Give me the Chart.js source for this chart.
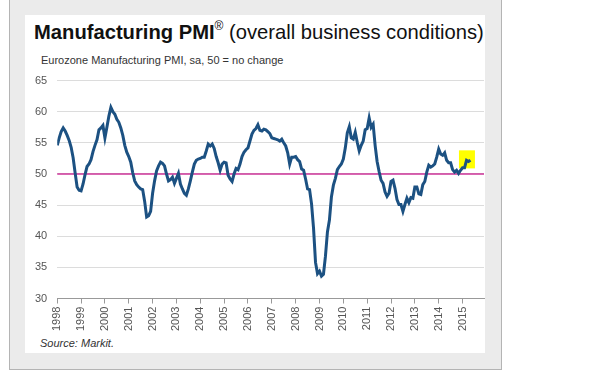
<!DOCTYPE html>
<html>
<head>
<meta charset="utf-8">
<script src="https://cdn.jsdelivr.net/npm/chart.js@4"></script>
<style>
    body { margin: 0; width: 608px; height: 375px; background: #fff; position: relative; overflow: hidden;
           font-family: "Liberation Sans", Arial, sans-serif; }
    #frame { position: absolute; left: 9px; top: -1px; width: 491px; height: 369px;
             background: #ebebeb; border: 1px solid #b4b4b4; }
    #panel { position: absolute; left: 25px; top: 15px; width: 460px; height: 338px; background: #fff; }
    #title { position: absolute; left: 34px; top: 19px; font-size: 20.2px; color: #111; white-space: nowrap; }
    #title b sup { font-size: 12px; font-weight: normal; vertical-align: 9px; }
    #subtitle { position: absolute; left: 41px; top: 54px; font-size: 11px; color: #333; white-space: nowrap; }
    #source { position: absolute; left: 40px; top: 337px; font-size: 11px; font-style: italic; color: #333; }
    #chart { position: absolute; left: 25px; top: 64px; }
</style>
</head>
<body>
<div id="frame"></div>
<div id="panel"></div>
<div id="title"><b>Manufacturing PMI<sup>®</sup></b> (overall business conditions)</div>
<div id="subtitle">Eurozone Manufacturing PMI, sa, 50 = no change</div>
<canvas id="chart" width="460" height="270"></canvas>
<div id="source">Source: Markit.</div>

<script>
// ================= DATA =================
const years = [1998, 1999, 2000, 2001, 2002, 2003, 2004, 2005, 2006,
               2007, 2008, 2009, 2010, 2011, 2012, 2013, 2014, 2015];

// monthly PMI readings, Jan..Dec
const pmi1998 = [54.6, 55.8, 56.8, 57.4, 56.9, 56.2, 55.4, 54.3, 52.6, 50.2, 47.9, 47.4];
const pmi1999 = [47.3, 48.4, 49.9, 51.2, 51.6, 52.3, 53.6, 54.6, 55.5, 57.1, 57.4, 57.8];
const pmi2000 = [55.8, 57.5, 59.3, 60.7, 60.0, 59.6, 58.8, 58.3, 57.4, 56.2, 54.6, 53.5];
const pmi2001 = [52.8, 51.9, 50.2, 48.9, 48.3, 47.9, 47.6, 47.5, 45.6, 43.1, 43.3, 44.0];
const pmi2002 = [46.9, 48.9, 50.5, 51.3, 51.9, 51.7, 51.3, 50.0, 48.9, 49.1, 49.5, 48.5];
const pmi2003 = [49.3, 50.1, 48.4, 47.6, 46.9, 46.6, 47.6, 48.9, 50.3, 51.6, 52.2, 52.4];
const pmi2004 = [52.5, 52.7, 52.7, 53.7, 54.8, 54.5, 54.8, 54.1, 52.8, 51.8, 50.6, 51.6];
const pmi2005 = [51.9, 51.8, 49.8, 49.2, 48.8, 50.0, 50.9, 50.7, 51.6, 52.8, 53.5, 53.9];
const pmi2006 = [54.2, 55.3, 56.4, 57.0, 57.3, 57.9, 57.0, 56.9, 57.2, 57.1, 56.8, 56.5];
const pmi2007 = [55.8, 55.7, 55.6, 55.5, 55.3, 55.6, 55.0, 54.5, 53.4, 51.6, 52.7, 52.7];
const pmi2008 = [52.8, 52.3, 52.0, 50.8, 50.6, 49.2, 47.6, 47.5, 45.2, 41.3, 35.8, 34.0];
const pmi2009 = [34.4, 33.6, 33.9, 36.8, 40.7, 42.6, 46.3, 48.2, 49.3, 50.7, 51.2, 51.6];
const pmi2010 = [52.4, 54.2, 56.6, 57.6, 55.8, 55.6, 56.7, 55.1, 53.7, 54.6, 55.3, 57.1];
const pmi2011 = [57.3, 59.0, 57.5, 58.0, 54.6, 52.0, 50.4, 49.0, 48.5, 47.1, 46.4, 46.9];
const pmi2012 = [48.8, 49.0, 47.7, 45.9, 45.1, 45.1, 44.0, 45.1, 46.1, 45.4, 46.2, 46.1];
const pmi2013 = [47.9, 47.9, 46.8, 46.7, 48.3, 48.8, 50.3, 51.4, 51.1, 51.3, 51.6, 52.7];
const pmi2014 = [54.0, 53.2, 53.0, 53.4, 52.2, 51.8, 51.8, 50.7, 50.3, 50.6, 50.1, 50.6];
const pmi2015 = [51.0, 51.0, 52.2, 52.0, 52.2];

const noChangeLevel = 50;
// latest readings highlighted (years / index values)
const highlightX = [2014.85, 2015.52];
const highlightY = [50.9, 53.8];

// ================= BUILD SERIES =================
const byYear = [pmi1998, pmi1999, pmi2000, pmi2001, pmi2002, pmi2003, pmi2004, pmi2005, pmi2006,
                pmi2007, pmi2008, pmi2009, pmi2010, pmi2011, pmi2012, pmi2013, pmi2014, pmi2015];
const points = [];
byYear.forEach((vals, i) => {
    vals.forEach((v, m) => points.push({ x: years[i] + m / 12, y: v }));
});

// ================= PLUGIN: 50 line + highlight =================
const marks = {
    id: "marks",
    beforeDatasetsDraw(chart) {
        const { ctx, chartArea, scales: { x, y } } = chart;
        ctx.save();
        ctx.fillStyle = "#ffff00";
        const x0 = x.getPixelForValue(highlightX[0]), x1 = x.getPixelForValue(highlightX[1]);
        const y0 = y.getPixelForValue(highlightY[1]), y1 = y.getPixelForValue(highlightY[0]);
        ctx.fillRect(x0, y0, x1 - x0, y1 - y0);

        const yy = y.getPixelForValue(noChangeLevel);
        ctx.strokeStyle = "#cc3399";
        ctx.lineWidth = 1.5;
        ctx.beginPath();
        ctx.moveTo(chartArea.left, yy);
        ctx.lineTo(chartArea.right, yy);
        ctx.stroke();
        ctx.restore();
    }
};

// ================= CHART =================
const font = { family: "'Liberation Sans', Arial, sans-serif", size: 11 };

new Chart(document.getElementById("chart"), {
    type: "line",
    data: {
        datasets: [{
            data: points,
            borderColor: "#1c5182",
            borderWidth: 3,
            pointRadius: 0,
            tension: 0
        }]
    },
    options: {
        responsive: false,
        animation: false,
        devicePixelRatio: 1,
        layout: { padding: { left: 0, right: 1, top: 4, bottom: 0 } },
        plugins: { legend: { display: false }, tooltip: { enabled: false } },
        scales: {
            x: {
                type: "linear",
                min: years[0],
                max: 2015.9,
                ticks: {
                    stepSize: 1,
                    includeBounds: false,
                    autoSkip: false,
                    minRotation: 90,
                    maxRotation: 90,
                    padding: 3,
                    color: "#555",
                    font: font,
                    callback: v => String(v)
                },
                grid: { drawOnChartArea: false, drawTicks: true, tickLength: 5, color: "#999" },
                border: { color: "#999" }
            },
            y: {
                min: 30,
                max: 65,
                ticks: { stepSize: 5, padding: 10, color: "#555", font: font },
                grid: { color: "#dcdcdc", drawTicks: false },
                border: { display: false }
            }
        }
    },
    plugins: [marks]
});
</script>
</body>
</html>
